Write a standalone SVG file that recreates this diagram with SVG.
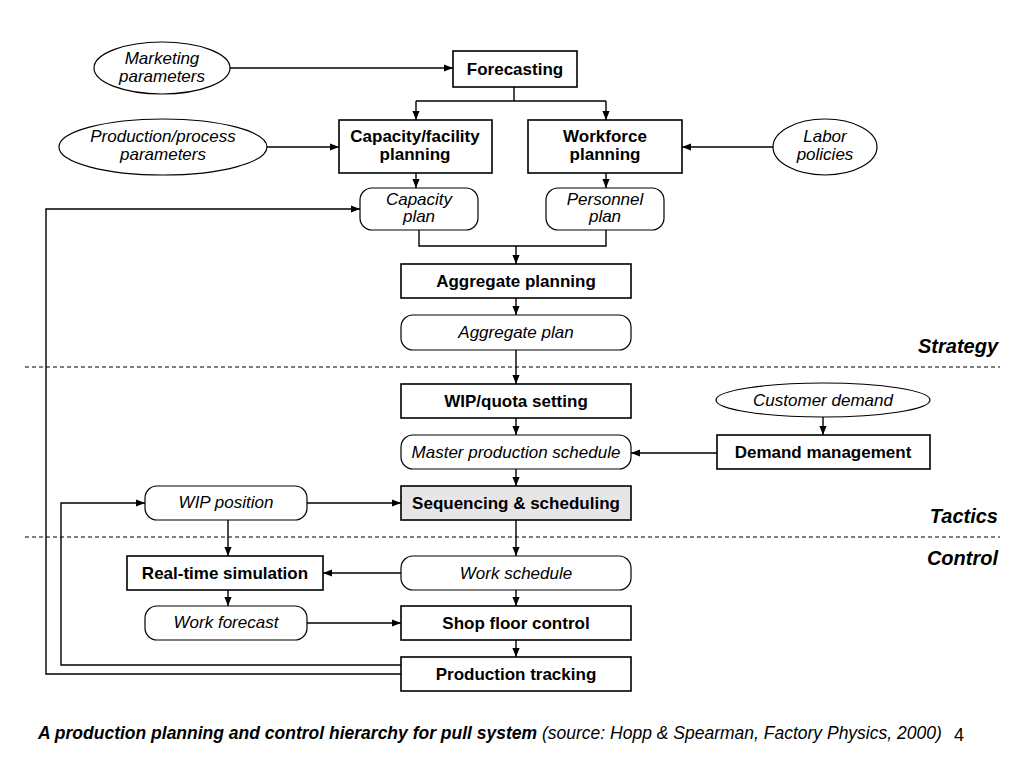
<svg xmlns="http://www.w3.org/2000/svg" width="1024" height="768" viewBox="0 0 1024 768">
<style>
  text { font-family: "Liberation Sans", Arial, sans-serif; fill: #000; }
  .b { font-weight: bold; font-size: 17px; text-anchor: middle; }
  .i { font-style: italic; font-size: 17px; text-anchor: middle; }
  .lvl { font-weight: bold; font-style: italic; font-size: 20px; text-anchor: end; }
  .box { fill: #fff; stroke: #000; stroke-width: 1.6; }
  .gbox { fill: #e6e6e6; stroke: #000; stroke-width: 1.6; }
  .rnd { fill: #fff; stroke: #000; stroke-width: 1.2; }
  .ell { fill: #fff; stroke: #000; stroke-width: 1.2; }
  .ln { fill: none; stroke: #000; stroke-width: 1.4; }
  .dash { stroke: #000; stroke-width: 1; stroke-dasharray: 4 3; }
</style>
<defs>
  <marker id="ah" viewBox="0 0 10 10" refX="10" refY="5" markerWidth="9" markerHeight="9" markerUnits="userSpaceOnUse" orient="auto">
    <path d="M0,1 L10,5 L0,9 z" fill="#000"/>
  </marker>
</defs>
<rect width="1024" height="768" fill="#fff"/>

<line class="dash" x1="25" y1="367" x2="1000" y2="367"/>
<line class="dash" x1="25" y1="537" x2="1000" y2="537"/>
<text class="lvl" x="998" y="353">Strategy</text>
<text class="lvl" x="998" y="523">Tactics</text>
<text class="lvl" x="998" y="565">Control</text>

<g id="connectors">
  <line class="ln" x1="230" y1="68" x2="453" y2="68" marker-end="url(#ah)"/>
  <polyline class="ln" points="514,87 514,101"/>
  <polyline class="ln" points="416,101 606,101"/>
  <line class="ln" x1="416" y1="101" x2="416" y2="120" marker-end="url(#ah)"/>
  <line class="ln" x1="606" y1="101" x2="606" y2="120" marker-end="url(#ah)"/>
  <line class="ln" x1="267" y1="147" x2="339" y2="147" marker-end="url(#ah)"/>
  <line class="ln" x1="773" y1="147" x2="682" y2="147" marker-end="url(#ah)"/>
  <line class="ln" x1="416" y1="173" x2="416" y2="188" marker-end="url(#ah)"/>
  <line class="ln" x1="606" y1="173" x2="606" y2="188" marker-end="url(#ah)"/>
  <polyline class="ln" points="419,230 419,246 606,246 606,230"/>
  <line class="ln" x1="516" y1="246" x2="516" y2="264" marker-end="url(#ah)"/>
  <line class="ln" x1="516" y1="298" x2="516" y2="315" marker-end="url(#ah)"/>
  <line class="ln" x1="516" y1="350" x2="516" y2="384" marker-end="url(#ah)"/>
  <line class="ln" x1="516" y1="418" x2="516" y2="435" marker-end="url(#ah)"/>
  <line class="ln" x1="823" y1="417" x2="823" y2="435" marker-end="url(#ah)"/>
  <line class="ln" x1="717" y1="453" x2="631" y2="453" marker-end="url(#ah)"/>
  <line class="ln" x1="516" y1="469" x2="516" y2="486" marker-end="url(#ah)"/>
  <line class="ln" x1="307" y1="503" x2="401" y2="503" marker-end="url(#ah)"/>
  <line class="ln" x1="516" y1="520" x2="516" y2="556" marker-end="url(#ah)"/>
  <line class="ln" x1="228" y1="520" x2="228" y2="556" marker-end="url(#ah)"/>
  <line class="ln" x1="401" y1="573" x2="323" y2="573" marker-end="url(#ah)"/>
  <line class="ln" x1="228" y1="590" x2="228" y2="606" marker-end="url(#ah)"/>
  <line class="ln" x1="516" y1="590" x2="516" y2="606" marker-end="url(#ah)"/>
  <line class="ln" x1="307" y1="623" x2="401" y2="623" marker-end="url(#ah)"/>
  <line class="ln" x1="516" y1="640" x2="516" y2="657" marker-end="url(#ah)"/>
  <polyline class="ln" points="401,665 61,665 61,503 145,503" marker-end="url(#ah)"/>
  <polyline class="ln" points="401,674 46,674 46,209 360,209" marker-end="url(#ah)"/>
</g>

<g id="marketing">
  <ellipse class="ell" cx="162" cy="68" rx="68" ry="26"/>
  <text class="i" x="162" y="64">Marketing</text>
  <text class="i" x="162" y="82">parameters</text>
</g>
<g id="forecasting">
  <rect class="box" x="453" y="51" width="124" height="36"/>
  <text class="b" x="515" y="75">Forecasting</text>
</g>
<g id="prodparams">
  <ellipse class="ell" cx="163" cy="147" rx="104" ry="28"/>
  <text class="i" x="163" y="142">Production/process</text>
  <text class="i" x="163" y="160">parameters</text>
</g>
<g id="capacity">
  <rect class="box" x="339" y="120" width="153" height="53"/>
  <text class="b" x="415" y="142">Capacity/facility</text>
  <text class="b" x="415" y="160">planning</text>
</g>
<g id="workforce">
  <rect class="box" x="528" y="120" width="154" height="53"/>
  <text class="b" x="605" y="142">Workforce</text>
  <text class="b" x="605" y="160">planning</text>
</g>
<g id="labor">
  <ellipse class="ell" cx="825" cy="147" rx="52" ry="28"/>
  <text class="i" x="825" y="142">Labor</text>
  <text class="i" x="825" y="160">policies</text>
</g>
<g id="capplan">
  <rect class="rnd" x="360" y="188" width="118" height="42" rx="12"/>
  <text class="i" x="419" y="205">Capacity</text>
  <text class="i" x="419" y="222">plan</text>
</g>
<g id="persplan">
  <rect class="rnd" x="546" y="188" width="118" height="42" rx="12"/>
  <text class="i" x="605" y="205">Personnel</text>
  <text class="i" x="605" y="222">plan</text>
</g>
<g id="aggplanning">
  <rect class="box" x="401" y="264" width="230" height="34"/>
  <text class="b" x="516" y="287">Aggregate planning</text>
</g>
<g id="aggplan">
  <rect class="rnd" x="401" y="315" width="230" height="35" rx="12"/>
  <text class="i" x="516" y="338">Aggregate plan</text>
</g>
<g id="wipquota">
  <rect class="box" x="401" y="384" width="230" height="34"/>
  <text class="b" x="516" y="407">WIP/quota setting</text>
</g>
<g id="custdemand">
  <ellipse class="ell" cx="823" cy="400" rx="107" ry="17"/>
  <text class="i" x="823" y="406">Customer demand</text>
</g>
<g id="mps">
  <rect class="rnd" x="401" y="435" width="230" height="34" rx="12"/>
  <text class="i" x="516" y="458">Master production schedule</text>
</g>
<g id="demandmgmt">
  <rect class="box" x="717" y="435" width="213" height="34"/>
  <text class="b" x="823" y="458">Demand management</text>
</g>
<g id="wippos">
  <rect class="rnd" x="145" y="486" width="162" height="34" rx="12"/>
  <text class="i" x="226" y="508">WIP position</text>
</g>
<g id="seq">
  <rect class="gbox" x="401" y="486" width="230" height="34"/>
  <text class="b" x="516" y="509">Sequencing &amp; scheduling</text>
</g>
<g id="rtsim">
  <rect class="box" x="127" y="556" width="196" height="34"/>
  <text class="b" x="225" y="579">Real-time simulation</text>
</g>
<g id="worksched">
  <rect class="rnd" x="401" y="556" width="230" height="34" rx="12"/>
  <text class="i" x="516" y="579">Work schedule</text>
</g>
<g id="workfc">
  <rect class="rnd" x="145" y="606" width="162" height="34" rx="12"/>
  <text class="i" x="226" y="628">Work forecast</text>
</g>
<g id="shopfloor">
  <rect class="box" x="401" y="606" width="230" height="34"/>
  <text class="b" x="516" y="629">Shop floor control</text>
</g>
<g id="prodtrack">
  <rect class="box" x="401" y="657" width="230" height="34"/>
  <text class="b" x="516" y="680">Production tracking</text>
</g>

<text x="38" y="739" style="font-size:17.5px"><tspan font-weight="bold" font-style="italic">A production planning and control hierarchy for pull system</tspan><tspan font-style="italic"> (source: Hopp &amp; Spearman, Factory Physics, 2000)</tspan></text>
<text x="954" y="741" style="font-size:18px">4</text>
</svg>
